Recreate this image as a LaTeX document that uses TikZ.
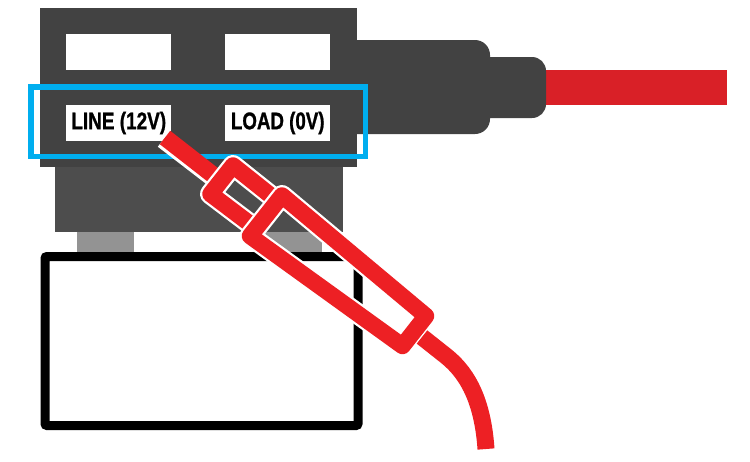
\documentclass[tikz,border=0pt]{standalone}
\usepackage{fontspec}
\setmainfont[BoldFeatures={FakeBold=1.2}]{Liberation Sans}
\definecolor{bodydark}{HTML}{424242}
\definecolor{bodymid}{HTML}{4D4D4D}
\definecolor{footgrey}{HTML}{939393}
\definecolor{bluebox}{HTML}{00AEEF}
\definecolor{probered}{HTML}{ED2024}
\definecolor{wirered}{HTML}{D92027}
\tikzset{
  x=1pt,y=-1pt,
  slot/.style={fill=white,draw=none,inner sep=0pt,minimum width=105pt,minimum height=36pt,font=\bfseries\fontsize{24}{24}\selectfont},
  probeedge/.style={draw=white,line width=21pt,line join=round},
  probebody/.style={draw=probered,line width=16.5pt,line join=round},
}
\begin{document}
\begin{tikzpicture}
\useasboundingbox (0,0) rectangle (750,461);
\fill[white] (0,0) rectangle (750,461);
% red wire and cable boot
\fill[wirered] (530,70) rectangle (727,105);
\fill[bodydark,rounded corners=14pt] (340,57) rectangle (546,118);
\fill[bodydark,rounded corners=15pt] (340,40) rectangle (490,134);
% feet
\fill[footgrey] (77,225) rectangle (134,253);
\fill[footgrey] (260,225) rectangle (322,253);
% fuse holder body
\fill[bodymid] (55,160) rectangle (343,232);
\fill[bodydark] (39.5,8) rectangle (357,167);
\node[slot] (w1) at (118,52) {};
\node[slot] (w2) at (277,52) {};
\node[slot] (line) at (118,123) {\hspace{1.5pt}\scalebox{0.79}[1]{LINE (12V)}};
\node[slot] (load) at (277,123) {\hspace{1.5pt}\scalebox{0.78}[1]{LOAD (0V)}};
% blue highlight
\draw[bluebox,line width=5.5pt] (31,87) rectangle (365.5,156.5);
% black box
\draw[black,line width=9pt,rounded corners=2pt] (45,256.5) rectangle (358,425.5);
% probe wire
\draw[white,line width=17pt] (163,140) -- (215,180);
\draw[probered,line width=17pt] (165,137.5) -- (222,182);
% small sleeve
\draw[probeedge] (275,199) -- (233,165.5) -- (210.5,194) -- (262,233);
\draw[probebody] (275,199) -- (233,165.5) -- (210.5,194) -- (262,233);
% large sleeve
\draw[probeedge] (282,195.5) -- (250,236) -- (402.5,346) -- (426,316) -- cycle;
\draw[probebody] (282,195.5) -- (250,236) -- (402.5,346) -- (426,316) -- cycle;
% tail
\draw[probered,line width=17pt] (422,337) -- (446,356) .. controls (470,375) and (483,405) .. (486,449);
\end{tikzpicture}
\end{document}
